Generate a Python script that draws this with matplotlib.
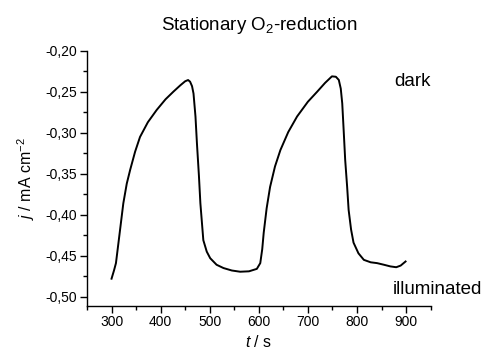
import numpy as np
import matplotlib.pyplot as plt
from matplotlib.ticker import MultipleLocator, FuncFormatter

plt.rcParams['font.family'] = ['Liberation Sans', 'DejaVu Sans']
plt.rcParams['mathtext.fontset'] = 'custom'
plt.rcParams['mathtext.rm'] = 'Liberation Sans'
plt.rcParams['mathtext.it'] = 'Liberation Sans:italic'

# values
t = [300, 305, 309, 316, 324, 331, 338, 348, 358, 374, 392, 410, 426, 440, 450, 456,
     460, 464, 467, 471, 474, 478, 481, 487, 494, 501, 514, 528, 545, 562, 580, 596, 603,
     607, 610, 616, 623, 633, 644, 660, 678, 700, 719, 735, 749, 757, 763, 767, 770, 773,
     776, 780, 783, 788, 793, 803, 814, 828, 841, 855, 868, 880, 889, 895, 899]
j = [-0.478, -0.468, -0.459, -0.425, -0.386, -0.362, -0.345, -0.323, -0.305, -0.287,
     -0.272, -0.259, -0.2497, -0.242, -0.237, -0.2355, -0.2375, -0.243, -0.252, -0.280,
     -0.313, -0.352, -0.386, -0.431, -0.445, -0.453, -0.461, -0.465, -0.468, -0.4695,
     -0.469, -0.466, -0.459, -0.442, -0.422, -0.392, -0.366, -0.341, -0.321, -0.299,
     -0.280, -0.262, -0.2497, -0.239, -0.231, -0.2315, -0.2354, -0.246, -0.264, -0.298,
     -0.333, -0.366, -0.394, -0.418, -0.434, -0.447, -0.455, -0.458, -0.459, -0.461,
     -0.463, -0.464, -0.462, -0.459, -0.457]

fig = plt.figure(figsize=(4.86, 3.49), dpi=100)
ax = fig.add_axes([0.179, 0.124, 0.707, 0.730])

ax.plot(t, j, color='black', lw=1.4)

ax.set_xlim(250, 950)
ax.set_ylim(-0.511, -0.20)
ax.xaxis.set_major_locator(MultipleLocator(100))
ax.xaxis.set_minor_locator(MultipleLocator(50))
ax.yaxis.set_major_locator(MultipleLocator(0.05))
ax.yaxis.set_minor_locator(MultipleLocator(0.025))
ax.yaxis.set_major_formatter(FuncFormatter(lambda v, p: ('%.2f' % v).replace('.', ',')))

for s in ['top', 'right']:
    ax.spines[s].set_visible(False)
ax.spines['left'].set_linewidth(1.0)
ax.spines['bottom'].set_linewidth(1.0)
ax.tick_params(which='major', direction='out', length=5, width=1.0, labelsize=10, pad=2)
ax.tick_params(which='minor', direction='out', length=3, width=1.0)

ax.set_title('Stationary O$_2$-reduction', fontsize=13.5, pad=15)
ax.set_ylabel('$\\mathit{j}$ / mA cm$^{-2}$', fontsize=11.5, labelpad=6)
ax.set_xlabel('$\\mathit{t}$ / s', fontsize=11.5, labelpad=3)

ax.text(0.893, 0.863, 'dark', transform=ax.transAxes, fontsize=13.5, ha='left', va='baseline')
ax.text(0.890, 0.046, 'illuminated', transform=ax.transAxes, fontsize=13.5, ha='left', va='baseline')

fig.savefig('out.png', dpi=100)
